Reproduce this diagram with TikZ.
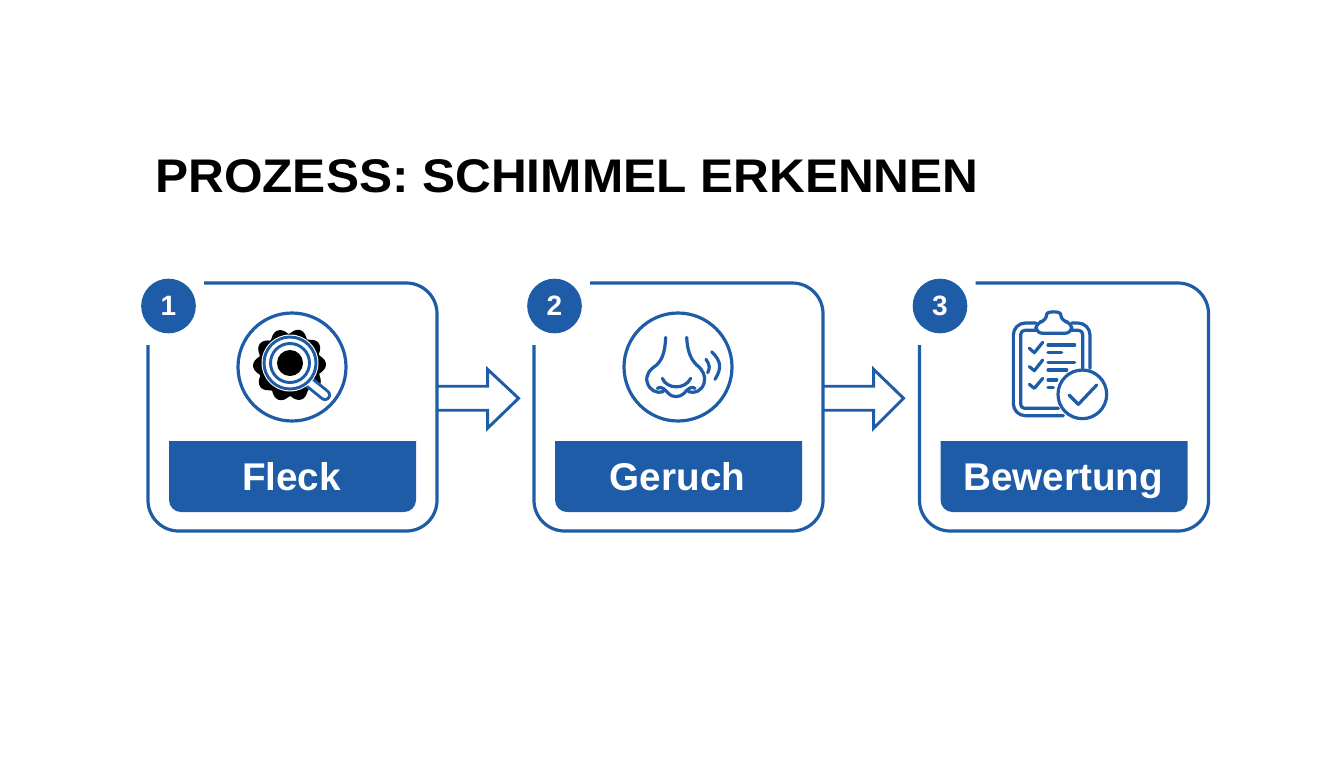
\documentclass[tikz,border=0pt]{standalone}
\usepackage{fontspec}
\setmainfont{Liberation Sans}
\definecolor{brand}{HTML}{1F5CA8}
\newfontfamily\titlefont[FakeStretch=1.05]{Liberation Sans}
\tikzset{
  x=0.75pt,y=-0.75pt,
  cardbox/.style={minimum width=216.75pt,minimum height=186pt,inner sep=0pt,anchor=north west},
  cardline/.style={draw=brand,line width=2.4pt,rounded corners=23pt},
  badge/.style={circle,fill=brand,text=white,minimum size=41pt,inner sep=0pt,font=\bfseries\fontsize{21pt}{21pt}\selectfont},
  bandtext/.style={text=white,anchor=base,inner sep=0pt,font=\bfseries\fontsize{29pt}{30pt}\selectfont},
  titletext/.style={text=black,anchor=base west,inner sep=0pt,font=\titlefont\bfseries\fontsize{35.4pt}{37pt}\selectfont},
  flowline/.style={draw=brand,line width=2.2pt,miter limit=10},
  iconline/.style={draw=brand,line width=2.4pt,line cap=round,line join=round},
  ring/.style={draw=brand,line width=2.4pt,fill=white},
}
\newcommand{\stepcard}[3]{%
  \begin{scope}[shift={(#1,0)}]
    \node[cardbox] (card#2) at (0,283) {};
    \draw[cardline] (56,283) -- (289,283) -- (289,531) -- (0,531) -- (0,345);
    \fill[brand] (21,441) [sharp corners] -- (268,441) [rounded corners=9pt] -- (268,512) -- (21,512) [sharp corners] -- cycle;
    \node[bandtext] (label#2) at (143.5,490) {#3};
    \node[badge] (badge#2) at (20.5,306) {#2};
  \end{scope}}
\begin{document}
\begin{tikzpicture}
\useasboundingbox (0,0) rectangle (1344,768);
\node[titletext] (title) at (155,192) {PROZESS: SCHIMMEL ERKENNEN};
\stepcard{148}{1}{Fleck}
\stepcard{534}{2}{Geruch}
\stepcard{919.5}{3}{Bewertung}
% block arrows
\draw[flowline] (card1.east) ++(0,-21) -- ++(50,0) -- ++(0,-17) -- ++(31,29) -- ++(-31,30) -- ++(0,-18) -- ++(-50,0);
\draw[flowline] (card2.east) ++(0,-21) -- ++(50,0) -- ++(0,-17) -- ++(30,29) -- ++(-30,30) -- ++(0,-18) -- ++(-50,0);
% icon 1: mould and magnifier
\node[circle,ring,minimum size=81pt,inner sep=0pt] (icon1) at (292,367) {};
\fill[black] plot[smooth cycle,samples at={0,4,...,356}] ({289.5+(30.5+6*abs(cos(5*\x+5)))*cos(\x)},{365+(30.5+6*abs(cos(5*\x+5)))*sin(\x)});
\draw[brand,line width=9pt,line cap=round] (309,382) -- (325,395);
\draw[white,line width=4.6pt,line cap=round] (309,382) -- (325,395);
\fill[white] (290,363) circle (28.5);
\draw[brand,line width=2.2pt] (290,363) circle (26);
\draw[brand,line width=2.2pt] (290,363) circle (19.5);
\fill[black] (290,363) circle (13);
% icon 2: nose
\node[circle,ring,minimum size=81pt,inner sep=0pt] (icon2) at (678,367) {};
\begin{scope}[shift={(600,300)},scale=1/3]
  \draw[iconline] (197,112) .. controls (195,150) and (190,175) .. (170,195) .. controls (150,208) and (135,225) .. (142,248) .. controls (148,270) and (170,282) .. (190,275);
  \draw[iconline] (260,112) .. controls (262,150) and (270,175) .. (290,195) .. controls (310,210) and (318,230) .. (312,250) .. controls (305,272) and (285,282) .. (265,275);
  \draw[iconline] (172,265) .. controls (185,256) and (195,270) .. (205,280) .. controls (215,293) and (240,293) .. (252,280) .. controls (262,268) and (275,256) .. (285,265);
  \draw[iconline] (187,235) .. controls (200,268) and (255,270) .. (272,235);
  \draw[iconline] (318,178) .. controls (330,195) and (330,205) .. (323,218);
  \draw[iconline] (335,155) .. controls (365,185) and (365,205) .. (345,238);
\end{scope}
% icon 3: clipboard
\begin{scope}[shift={(1000,305)},scale=1/3]
  \draw[iconline,rounded corners=9pt] (108,54) -- (40,54) -- (40,332) -- (190,332);
  \draw[iconline,rounded corners=9pt] (215,54) -- (270,54) -- (270,190);
  \draw[iconline,rounded corners=3pt] (108,76) -- (62,76) -- (62,310) -- (175,310);
  \draw[iconline,rounded corners=3pt] (215,76) -- (248,76) -- (248,190);
  \draw[iconline,fill=white,rounded corners=5pt] (108,85) -- (108,52) -- (140,48) .. controls (140,18) and (182,18) .. (182,48) -- (215,52) -- (215,85) -- cycle;
  \draw[iconline] (88,130) -- (103,143) -- (128,112);
  \draw[iconline] (88,185) -- (103,197) -- (128,165);
  \draw[iconline] (88,238) -- (103,250) -- (128,220);
  \draw[iconline] (144,120) -- (224,120);
  \draw[iconline] (144,142) -- (185,142);
  \draw[iconline] (144,172) -- (224,172);
  \draw[iconline] (144,195) -- (200,195);
  \draw[iconline] (144,225) -- (170,225);
  \draw[iconline] (144,247) -- (160,247);
  \draw[iconline,fill=white] (247,268) circle (73);
  \draw[iconline] (207,270) -- (235,298) -- (290,240);
\end{scope}
\end{tikzpicture}
\end{document}
